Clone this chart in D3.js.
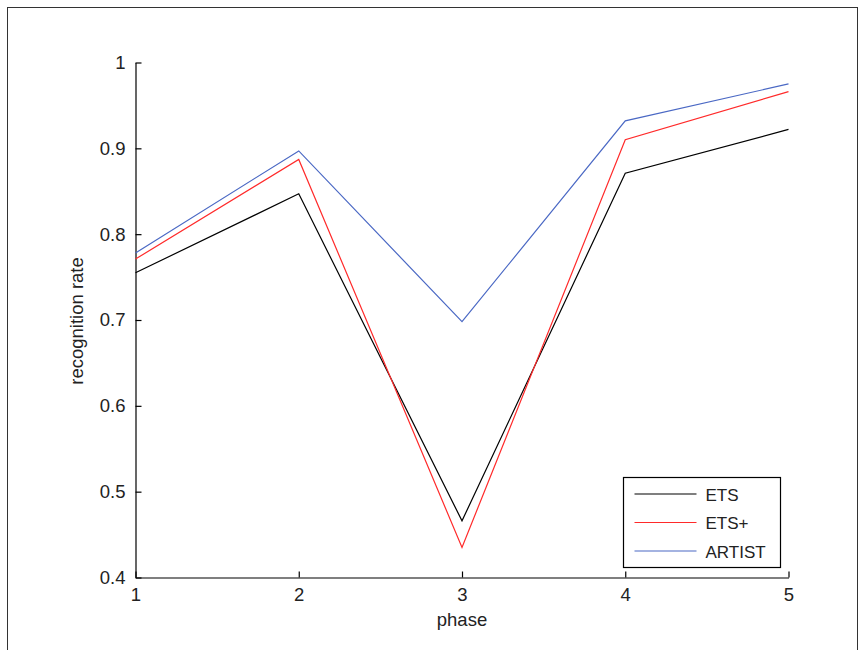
<!DOCTYPE html>
<html>
<head>
<meta charset="utf-8">
<script src="https://cdn.jsdelivr.net/npm/d3@7/dist/d3.min.js"></script>
<style>
  html, body { margin: 0; padding: 0; background: #fff; }
  svg { display: block; }
  text { font-family: "Liberation Sans", Arial, sans-serif; fill: #222; }
</style>
</head>
<body>
<svg id="chart" width="868" height="650"></svg>
<script>
// Recognition rate per phase for each method
const phases = [1, 2, 3, 4, 5];
const ets = [0.755, 0.847, 0.466, 0.871, 0.922];
const etsPlus = [0.771, 0.887, 0.435, 0.910, 0.966];
const artist = [0.778, 0.897, 0.698, 0.932, 0.975];
const seriesNames = ["ETS", "ETS+", "ARTIST"];
const seriesColors = ["#000000", "#ff2a2a", "#4a68c4"];
const yTicks = [0.4, 0.5, 0.6, 0.7, 0.8, 0.9, 1];

const series = [ets, etsPlus, artist];

const svg = d3.select("#chart");

// outer figure frame
svg.append("rect")
  .attr("x", 7.5).attr("y", 7.5)
  .attr("width", 850).attr("height", 700)
  .attr("fill", "none").attr("stroke", "#333").attr("stroke-width", 1);

const plotLeft = 135.5, plotRight = 788.5, plotTop = 62.5, plotBottom = 577.5;
const labelSize = "18.5px";

const x = d3.scaleLinear().domain([1, 5]).range([plotLeft, plotRight]);
const y = d3.scaleLinear().domain([0.4, 1]).range([plotBottom, plotTop]);

const g = svg.append("g");

// y axis with inward ticks
const yAxis = d3.axisLeft(y).tickValues(yTicks).tickSizeInner(-6).tickSizeOuter(0)
  .tickPadding(10).tickFormat(d => d === 1 ? "1" : d3.format(".1f")(d));
const yg = g.append("g").attr("transform", `translate(${plotLeft},0)`).call(yAxis);

// x axis with inward ticks
const xAxis = d3.axisBottom(x).tickValues(phases).tickSizeInner(-6).tickSizeOuter(0)
  .tickPadding(10).tickFormat(d3.format("d"));
const xg = g.append("g").attr("transform", `translate(0,${plotBottom})`).call(xAxis);

[yg, xg].forEach(a => {
  a.attr("font-size", null).attr("font-family", null);
  a.selectAll("path.domain").attr("stroke", "#000").attr("stroke-width", 1.2);
  a.selectAll(".tick line").attr("stroke", "#000").attr("stroke-width", 1.2);
  a.selectAll("text")
    .style("font-family", "'Liberation Sans', Arial, sans-serif")
    .style("font-size", labelSize).attr("fill", "#222");
});

// axis titles
svg.append("text")
  .attr("x", x(3)).attr("y", 626)
  .attr("text-anchor", "middle")
  .style("font-size", labelSize)
  .text("phase");

svg.append("text")
  .attr("transform", `translate(83,${(plotTop + plotBottom) / 2 + 1}) rotate(-90)`)
  .attr("text-anchor", "middle")
  .style("font-size", labelSize)
  .text("recognition rate");

// series lines
const line = d3.line().x((d, i) => x(phases[i])).y(d => y(d));
series.forEach((s, k) => {
  g.append("path")
    .datum(s)
    .attr("d", line)
    .attr("fill", "none")
    .attr("stroke", seriesColors[k])
    .attr("stroke-width", 1.2);
});

// legend
const lg = svg.append("g").attr("transform", "translate(623.5,477.5)");
lg.append("rect")
  .attr("width", 157).attr("height", 90)
  .attr("fill", "#fff").attr("stroke", "#000").attr("stroke-width", 1.2);
seriesNames.forEach((name, k) => {
  const ry = 16.5 + k * 28.5;
  lg.append("line")
    .attr("x1", 11).attr("x2", 73).attr("y1", ry).attr("y2", ry)
    .attr("stroke", seriesColors[k]).attr("stroke-width", 1.2);
  lg.append("text")
    .attr("x", 82).attr("y", ry + 6.5)
    .style("font-size", "17px")
    .text(name);
});
</script>
</body>
</html>
